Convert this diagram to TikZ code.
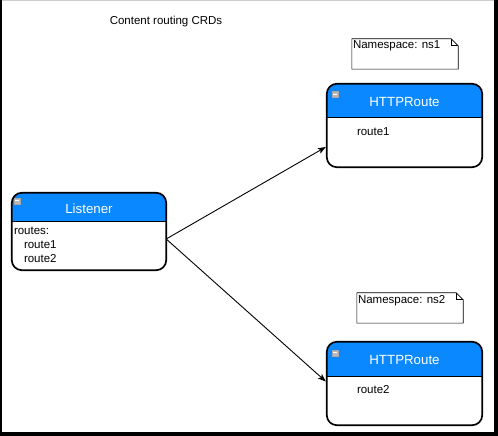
\documentclass[tikz,border=0pt]{standalone}
\usepackage{fontspec}
\setmainfont{Liberation Sans}
\usepackage{tikz}
\usetikzlibrary{arrows, arrows.meta, positioning, calc}
\definecolor{hdrblue}{RGB}{10,136,255}
\tikzstyle{crd} = [rectangle, rounded corners=10pt, fill=white, inner sep=0pt]
\tikzstyle{outline} = [rounded corners=10pt, line width=1.7pt, draw=black]
\tikzstyle{hdrtext} = [text=white, font=\fontsize{13.3}{16}\selectfont, inner sep=0pt]
\tikzstyle{body} = [font=\fontsize{11.5}{14}\selectfont, inner sep=0pt, align=left]
\tikzstyle{icon} = [rectangle, draw=gray!70, fill=gray!55, minimum size=6pt, inner sep=0pt,
    path picture={\draw[white, line width=1pt] ($(path picture bounding box.west)+(1.3,0)$) -- ($(path picture bounding box.east)+(-1.3,0)$);}]
\tikzstyle{note} = [rectangle, minimum width=106pt, minimum height=30pt, inner sep=0pt]
\tikzstyle{arrow} = [line width=0.9pt,-{Stealth[length=8pt,width=6pt,inset=2pt]}]

\begin{document}
\begin{tikzpicture}[x=1pt, y=1pt]
    % frame
    \fill[black] (0,0) rectangle (498,436);
    \fill[white] (2,4) rectangle (494,435);
    \fill[gray!40] (2,435) rectangle (494,436);
    \useasboundingbox (0,0) rectangle (498,436);

    % title
    \node (title) [body] at (166,414) {Content routing CRDs};

    % boxes
    \node (listener) [crd, minimum width=154pt, minimum height=77pt] at (89,204.5) {};
    \node (r1) [crd, minimum width=155pt, minimum height=83pt] at (404.5,310.5) {};
    \node (r2) [crd, minimum width=155pt, minimum height=83pt] at (404.5,52.5) {};

    % headers
    \begin{scope}
        \clip[rounded corners=10pt] (listener.south west) rectangle (listener.north east);
        \fill[hdrblue] (listener.north west) rectangle ($(listener.north east)+(0,-29)$);
    \end{scope}
    \begin{scope}
        \clip[rounded corners=10pt] (r1.south west) rectangle (r1.north east);
        \fill[hdrblue] (r1.north west) rectangle ($(r1.north east)+(0,-34)$);
    \end{scope}
    \begin{scope}
        \clip[rounded corners=10pt] (r2.south west) rectangle (r2.north east);
        \fill[hdrblue] (r2.north west) rectangle ($(r2.north east)+(0,-35)$);
    \end{scope}
    \draw[line width=1.2pt] ($(listener.north west)+(0,-29)$) -- ($(listener.north east)+(0,-29)$);
    \draw[line width=1.2pt] ($(r1.north west)+(0,-34)$) -- ($(r1.north east)+(0,-34)$);
    \draw[line width=1.2pt] ($(r2.north west)+(0,-35)$) -- ($(r2.north east)+(0,-35)$);
    \foreach \b in {listener, r1, r2}
        \draw[outline] (\b.south west) rectangle (\b.north east);

    % collapse icons
    \node (lsicon) [icon] at ($(listener.north west)+(5,-8)$) {};
    \node (r1icon) [icon] at ($(r1.north west)+(8,-10.5)$) {};
    \node (r2icon) [icon] at ($(r2.north west)+(8,-11)$) {};

    % header titles
    \node (lstitle) [hdrtext] at ($(listener.north)+(0,-15.5)$) {Listener};
    \node (r1title) [hdrtext] at ($(r1.north)+(0,-18)$) {HTTPRoute};
    \node (r2title) [hdrtext] at ($(r2.north)+(0,-18.5)$) {HTTPRoute};

    % contents
    \node (lsbody) [body, anchor=north west] at ($(listener.north west)+(2,-34)$) {routes:\\\hspace*{10pt}route1\\\hspace*{10pt}route2};
    \node (r1body) [body, anchor=west] at ($(r1.north west)+(30,-48)$) {route1};
    \node (r2body) [body, anchor=west] at ($(r2.north west)+(30,-48)$) {route2};

    % namespace notes
    \node (ns1) [note] at (405,382) {};
    \node (ns2) [note] at (410,128) {};
    \foreach \n in {ns1, ns2} {
        \draw[line width=0.6pt] (\n.south west) -- (\n.north west) -- ($(\n.north east)+(-7,0)$) -- ($(\n.north east)+(0,-7)$) -- (\n.south east) -- cycle;
        \draw[line width=0.6pt] ($(\n.north east)+(-7,0)$) -- ++(0,-7) -- ++(7,0);
    }
    \node (ns1text) [body, anchor=north west] at ($(ns1.north west)+(1,-2)$) {Namespace: ns1};
    \node (ns2text) [body, anchor=north west] at ($(ns2.north west)+(1,-2)$) {Namespace: ns2};

    % arrows
    \draw [arrow] ($(listener.east)+(0,-7.5)$) -- ($(r1.west)+(-1,-21.5)$);
    \draw [arrow] ($(listener.east)+(0,-7.5)$) -- ($(r2.west)+(-1,2)$);
\end{tikzpicture}
\end{document}
